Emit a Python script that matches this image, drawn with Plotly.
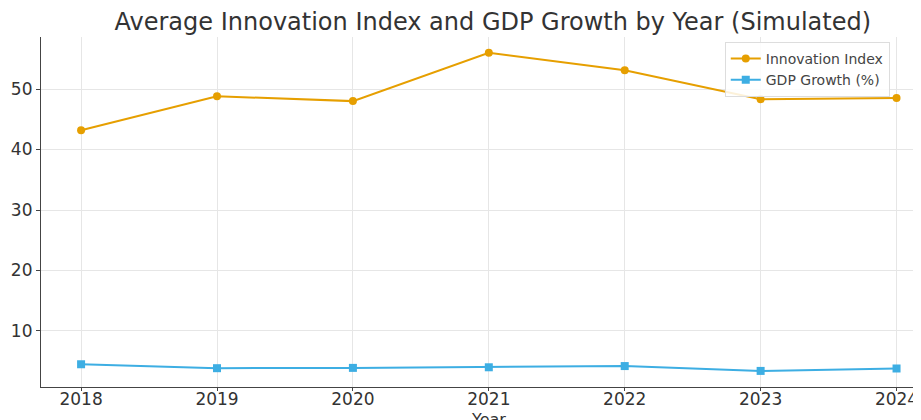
import plotly.graph_objects as go

years = [2018, 2019, 2020, 2021, 2022, 2023, 2024]
innovation_index = [43.2, 48.8, 48.0, 56.0, 53.1, 48.3, 48.5]
gdp_growth = [4.5, 3.85, 3.9, 4.0, 4.2, 3.4, 3.8]
y_ticks = [10, 20, 30, 40, 50]

fig = go.Figure()
fig.add_trace(go.Scatter(x=years, y=innovation_index, mode="lines+markers",
                         name="Innovation Index",
                         line=dict(color="#E69F00", width=2),
                         marker=dict(symbol="circle", size=8, color="#E69F00")))
fig.add_trace(go.Scatter(x=years, y=gdp_growth, mode="lines+markers",
                         name="GDP Growth (%)",
                         line=dict(color="#3DAEE3", width=2),
                         marker=dict(symbol="square", size=8, color="#3DAEE3")))

fig.add_annotation(text="Year", xref="paper", yref="paper", x=0.509, y=-0.094,
                   xanchor="center", yanchor="middle", showarrow=False,
                   font=dict(size=16, color="#333333"))

fig.update_layout(
    width=913, height=412,
    paper_bgcolor="white", plot_bgcolor="white",
    margin=dict(l=33, r=0, t=29, b=33, pad=0, autoexpand=False),
    font=dict(family="DejaVu Sans", color="#333333"),
    title=dict(text="Average Innovation Index and GDP Growth by Year (Simulated)",
               x=0.531, xanchor="center", y=0.968, yanchor="middle",
               font=dict(size=24, color="#333333")),
    showlegend=True,
    legend=dict(x=0.777, y=0.986, xanchor="left", yanchor="top",
                bgcolor="rgba(255,255,255,0.85)", bordercolor="#DDDDDD", borderwidth=1,
                font=dict(size=14, color="#444444"), tracegroupgap=0,
                itemwidth=30),
    xaxis=dict(range=[2017.705, 2024.18], tickmode="array", tickvals=years,
               ticktext=[str(y) for y in years], automargin=False,
               showgrid=True, gridcolor="#E6E6E6", gridwidth=1,
               showline=True, linecolor="#444444", linewidth=1.2,
               ticks="outside", ticklen=3, tickcolor="#444444",
               tickfont=dict(size=17, color="#333333"),
               ticklabelstandoff=-7,
               zeroline=False),
    yaxis=dict(range=[0.74, 58.6], tickmode="array", tickvals=y_ticks, automargin=False,
               showgrid=True, gridcolor="#E6E6E6", gridwidth=1,
               showline=True, linecolor="#444444", linewidth=1.2,
               ticks="outside", ticklen=4, tickcolor="#444444",
               tickfont=dict(size=17, color="#333333"),
               zeroline=False),
)

fig.write_html("out.html")
